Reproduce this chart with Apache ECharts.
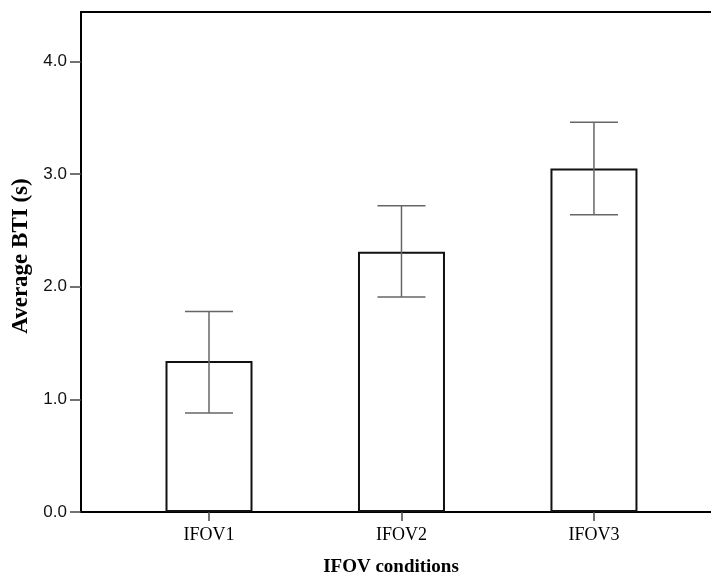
<!DOCTYPE html>
<html>
<head>
<meta charset="utf-8">
<script src="https://cdn.jsdelivr.net/npm/echarts@6/dist/echarts.min.js"></script>
<style>
html,body{margin:0;padding:0;background:#fff;}
#chart{width:711px;height:578px;}
</style>
</head>
<body>
<div id="chart"></div>
<script>
const categories = ['IFOV1', 'IFOV2', 'IFOV3'];
const positions = [1, 2, 3];
const means = [1.34, 2.31, 3.05];
const errLow = [0.88, 1.91, 2.64];
const errHigh = [1.78, 2.72, 3.46];
const yTicks = [0, 1, 2, 3, 4];

const chart = echarts.init(document.getElementById('chart'));
const serif = '"Liberation Serif", "Times New Roman", serif';
const sans = '"Liberation Sans", Arial, sans-serif';

const option = {
  animation: false,
  backgroundColor: '#fff',
  grid: {
    left: 81, top: 12, bottom: 66, right: -10,
    containLabel: false, outerBoundsMode: 'none',
    show: true, borderColor: '#000', borderWidth: 2, backgroundColor: 'transparent'
  },
  xAxis: {
    type: 'value',
    min: 0.335, max: 3.66,
    splitLine: { show: false },
    axisLine: { show: true, lineStyle: { color: '#000', width: 2 } },
    axisTick: { show: true, customValues: positions, length: 9, lineStyle: { color: '#444', width: 1.5 } },
    axisLabel: {
      customValues: positions, margin: 14,
      formatter: v => categories[positions.indexOf(v)] || '',
      fontFamily: serif, fontSize: 18, color: '#000'
    },
    name: 'IFOV conditions', nameLocation: 'middle', nameGap: 46,
    nameTextStyle: { fontFamily: serif, fontSize: 19, fontWeight: 'bold', color: '#000', padding: [0, 20, 0, 0] }
  },
  yAxis: {
    type: 'value',
    min: 0, max: 4.44,
    splitLine: { show: false },
    axisLine: { show: true, lineStyle: { color: '#000', width: 2 } },
    axisTick: { show: true, customValues: yTicks, length: 11, lineStyle: { color: '#444', width: 1.5 } },
    axisLabel: {
      customValues: yTicks, margin: 14,
      formatter: v => v.toFixed(1),
      fontFamily: sans, fontSize: 17, color: '#111'
    },
    name: 'Average BTI (s)', nameLocation: 'middle', nameGap: 43, nameRotate: 90,
    nameTextStyle: { fontFamily: serif, fontSize: 23, fontWeight: 'bold', color: '#000', padding: [0, 0, 0, 12] }
  },
  series: [
    {
      type: 'bar',
      data: positions.map((p, i) => [p, means[i]]),
      barWidth: 87,
      itemStyle: { color: '#fff', borderColor: '#111', borderWidth: 2 },
      z: 2
    },
    {
      type: 'custom',
      data: positions.map((p, i) => [p, errLow[i], errHigh[i]]),
      renderItem: function (params, api) {
        const x = api.value(0);
        const lo = api.coord([x, api.value(1)]);
        const hi = api.coord([x, api.value(2)]);
        const hw = 24;
        const style = { stroke: '#666', lineWidth: 1.5 };
        return {
          type: 'group',
          children: [
            { type: 'line', shape: { x1: lo[0], y1: lo[1], x2: hi[0], y2: hi[1] }, style },
            { type: 'line', shape: { x1: hi[0] - hw, y1: hi[1], x2: hi[0] + hw, y2: hi[1] }, style },
            { type: 'line', shape: { x1: lo[0] - hw, y1: lo[1], x2: lo[0] + hw, y2: lo[1] }, style }
          ]
        };
      },
      z: 3
    }
  ]
};
chart.setOption(option);
</script>
</body>
</html>
